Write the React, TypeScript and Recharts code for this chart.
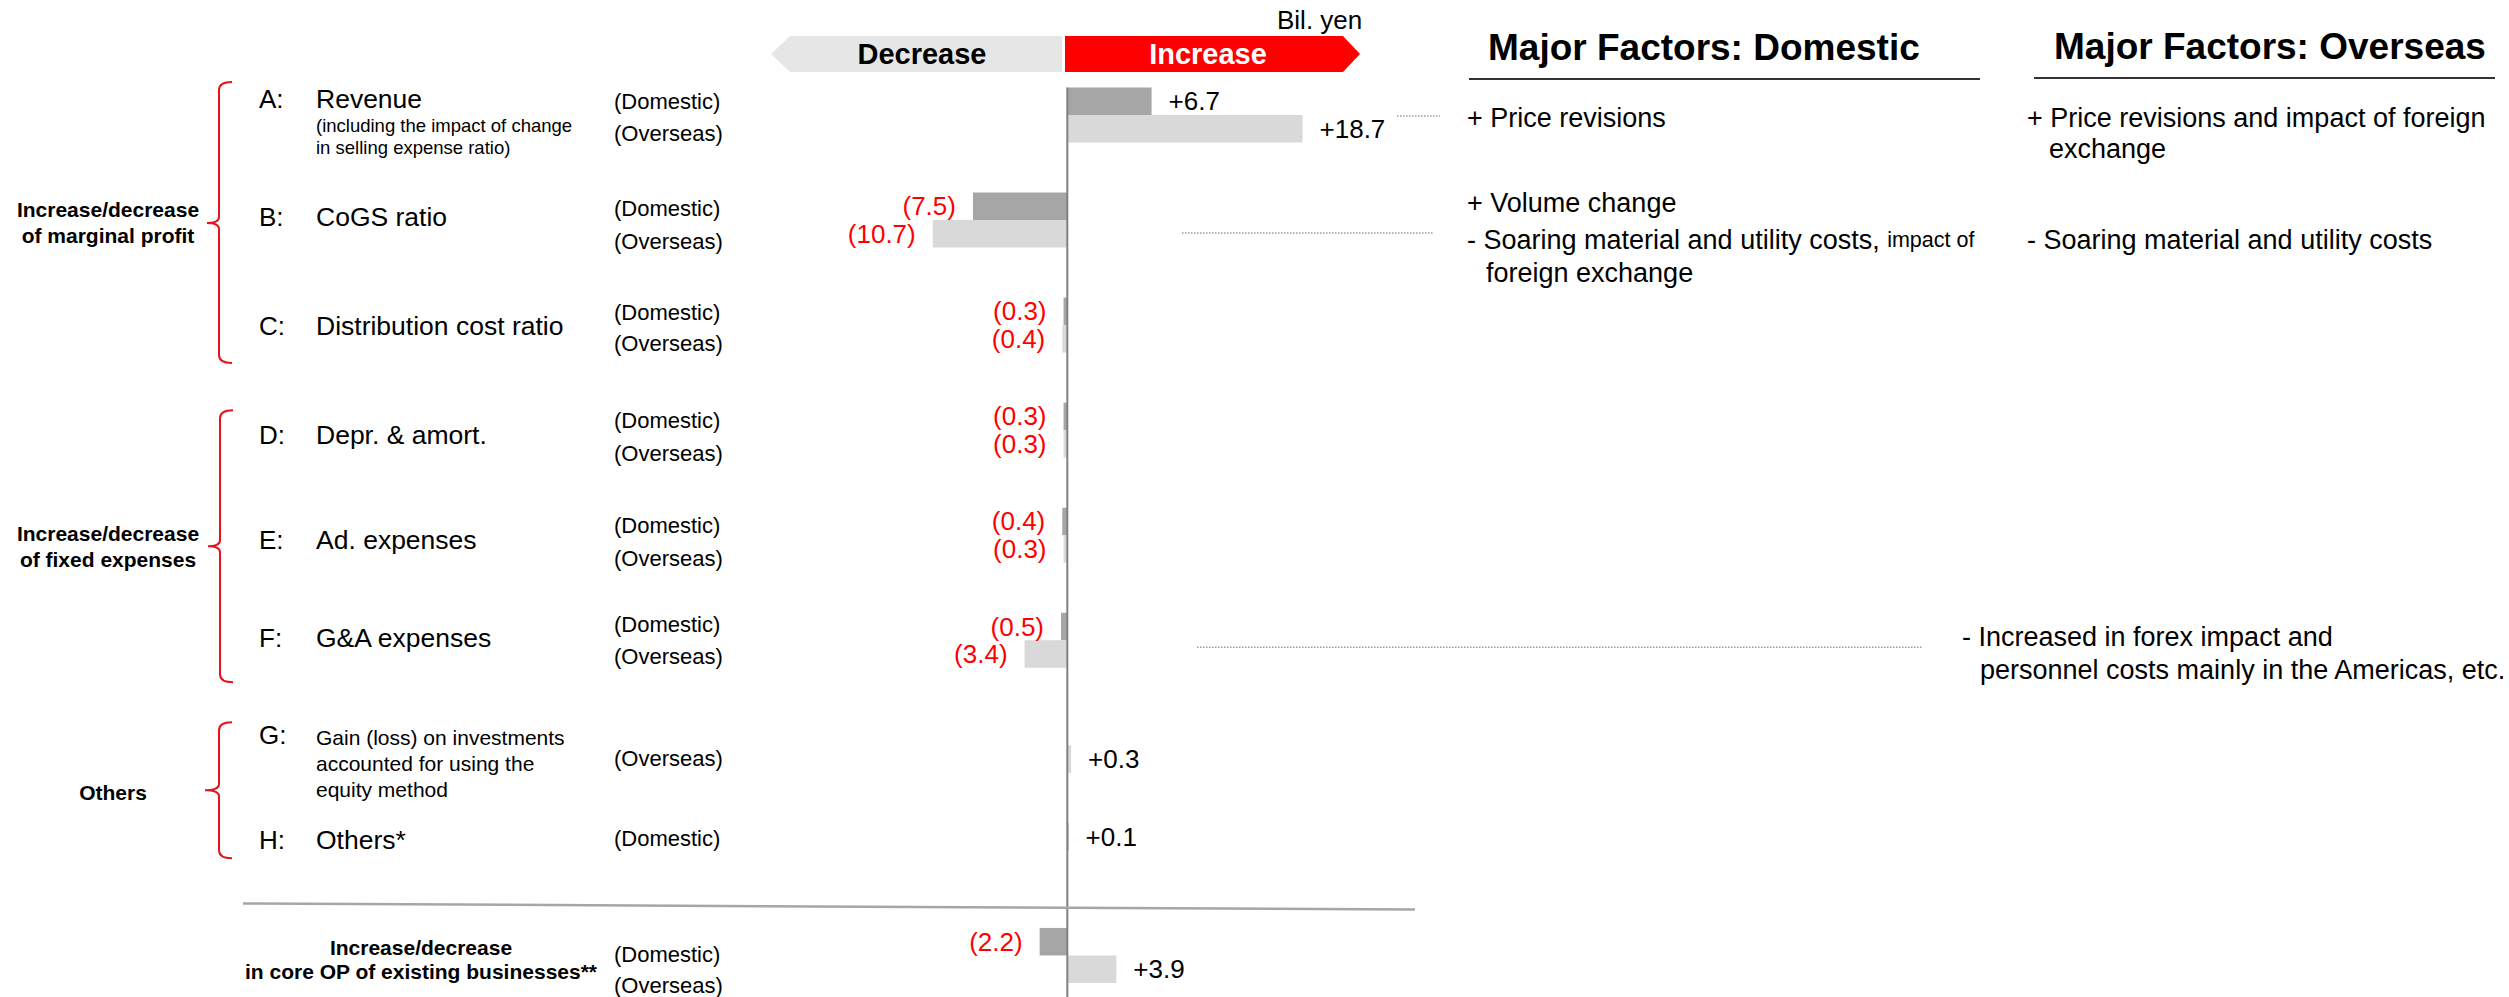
import React from 'react';
import { BarChart, Bar, XAxis, YAxis, LabelList, ReferenceLine } from 'recharts';

const FONT = "'Liberation Sans', Arial, Helvetica, sans-serif";

// ---------- data ----------
const categories = ['A', 'B', 'C', 'D', 'E', 'F', 'G', 'H', 'Total'];
const itemLetters = ['A', 'B', 'C', 'D', 'E', 'F', 'G', 'H', ''];
const itemNames = [
  ['Revenue'],
  ['CoGS ratio'],
  ['Distribution cost ratio'],
  ['Depr. & amort.'],
  ['Ad. expenses'],
  ['G&A expenses'],
  ['Gain (loss) on investments', 'accounted for using the', 'equity method'],
  ['Others*'],
  ['Increase/decrease', 'in core OP of existing businesses**'],
];
const itemNotes = [['(including the impact of change', 'in selling expense ratio)'], [], [], [], [], [], [], [], []];
const domesticValues = [6.7, -7.5, -0.3, -0.3, -0.4, -0.5, null, 0.1, -2.2];
const overseasValues = [18.7, -10.7, -0.4, -0.3, -0.3, -3.4, 0.3, null, 3.9];
const seriesLabels = ['(Domestic)', '(Overseas)'];
const groupTitles = [
  ['Increase/decrease', 'of marginal profit'],
  ['Increase/decrease', 'of fixed expenses'],
  ['Others'],
];
const groupAnchorRows = ['B', 'E', 'G'];
const headerLabels = ['Decrease', 'Increase'];
const unitLabel = 'Bil. yen';
const factorTitles = ['Major Factors: Domestic', 'Major Factors: Overseas'];
const domesticFactors = [
  { row: 'A', lines: [['+ Price revisions']] },
  { row: 'B', lines: [['+ Volume change'], ['- Soaring material and utility costs, ', 'impact of'], ['foreign exchange']] },
];
const overseasFactors = [
  { row: 'A', lines: [['+ Price revisions and impact of foreign'], ['exchange']] },
  { row: 'B', lines: [['- Soaring material and utility costs']] },
  { row: 'F', lines: [['- Increased in forex impact and'], ['personnel costs mainly in the Americas, etc.']] },
];

const data = categories.map((cat, i) => ({
  cat,
  domestic: domesticValues[i],
  overseas: overseasValues[i],
}));

// ---------- layout (offsets relative to row centre) ----------
const LETTER_DY = [-16, -3, 1, 5, 5, -2, -10, -10, 0];
const NAME_DY = [[-16], [-3], [1], [5], [5], [-2], [-8, 18, 44], [-10], [-8, 16]];
const NOTE_DY = [10, 32];
const SERIES_DY = [
  [-14, 18], [-12, 21], [-13, 18], [-10, 23], [-10, 23], [-16, 16], [null, 13], [-12, null], [-1, 30],
];
const GROUP_LAYOUT = [
  { top: -138, bottom: 143, tip: 3, x: 219, tipX: 207, endX: 232, labelX: 108, labelDy: [-11, 15] },
  { top: -125, bottom: 147, tip: 11, x: 220, tipX: 208, endX: 233, labelX: 108, labelDy: [-2, 24] },
  { top: -23, bottom: 113, tip: 45, x: 219, tipX: 205, endX: 232, labelX: 113, labelDy: [47] },
];
const FACTOR_LAYOUT = {
  dom: { A: [[1467, 3]], B: [[1467, -17], [1467, 20], [1486, 53]] },
  ov: { A: [[2027, 3], [2049, 34]], B: [[2027, 20]], F: [[1962, -3], [1980, 30]] },
  leader: { A: [1397, 1440, 1], B: [1182, 1433, 13], F: [1197, 1922, 7] },
};

const T = ({ x, y, size, bold, anchor, fill, children }) => (
  <text
    x={x}
    y={y}
    fontSize={size}
    fontWeight={bold ? 'bold' : 'normal'}
    textAnchor={anchor || 'start'}
    dominantBaseline="central"
    fill={fill || '#000'}
    fontFamily={FONT}
  >
    {children}
  </text>
);

function renderRowTick(props) {
  const { y, payload } = props;
  const cat = payload.value;
  const i = categories.indexOf(cat);
  const c = y;
  const parts = [];

  if (itemLetters[i]) {
    parts.push(<T key="l" x={259} y={c + LETTER_DY[i]} size={26}>{itemLetters[i] + ':'}</T>);
    const small = itemNames[i].length > 1;
    itemNames[i].forEach((n, k) =>
      parts.push(
        <T key={'n' + k} x={316} y={c + NAME_DY[i][k]} size={small ? 21 : 26.5}>{n}</T>
      )
    );
    itemNotes[i].forEach((n, k) =>
      parts.push(<T key={'no' + k} x={316} y={c + NOTE_DY[k]} size={18.5}>{n}</T>)
    );
  } else {
    itemNames[i].forEach((n, k) =>
      parts.push(
        <T key={'n' + k} x={421} y={c + NAME_DY[i][k]} size={21} bold anchor="middle">{n}</T>
      )
    );
    parts.push(<line key="sep" x1={243} y1={c - 52} x2={1415} y2={c - 46} stroke="#a6a6a6" strokeWidth={2.5} />);
  }

  SERIES_DY[i].forEach((dy, k) => {
    if (dy == null) return;
    parts.push(<T key={'s' + k} x={614} y={c + dy} size={22}>{seriesLabels[k]}</T>);
  });

  const g = groupAnchorRows.indexOf(cat);
  if (g >= 0) {
    const L = GROUP_LAYOUT[g];
    const top = c + L.top, bot = c + L.bottom, tip = c + L.tip;
    const d = `M${L.endX},${top} Q${L.x},${top} ${L.x},${top + 8} L${L.x},${tip - 6} Q${L.x},${tip} ${L.tipX},${tip} Q${L.x},${tip} ${L.x},${tip + 6} L${L.x},${bot - 8} Q${L.x},${bot} ${L.endX},${bot}`;
    parts.push(<path key="br" d={d} fill="none" stroke="#e8141c" strokeWidth={2} />);
    groupTitles[g].forEach((t, k) =>
      parts.push(<T key={'g' + k} x={L.labelX} y={c + L.labelDy[k]} size={21} bold anchor="middle">{t}</T>)
    );
  }

  const renderFactors = (list, lay, kp) => {
    list.forEach((f) => {
      if (f.row !== cat) return;
      f.lines.forEach((segs, k) => {
        const [fx, fdy] = lay[cat][k];
        parts.push(
          <text key={kp + k} x={fx} y={c + fdy} fontSize={27} dominantBaseline="central" fontFamily={FONT} fill="#000">
            {segs[0]}
            {segs[1] ? <tspan fontSize={21.5}>{segs[1]}</tspan> : null}
          </text>
        );
      });
    });
  };
  renderFactors(domesticFactors, FACTOR_LAYOUT.dom, 'fd');
  renderFactors(overseasFactors, FACTOR_LAYOUT.ov, 'fo');
  const ld = FACTOR_LAYOUT.leader[cat];
  if (ld) {
    parts.push(
      <line key="ld" x1={ld[0]} x2={ld[1]} y1={c + ld[2]} y2={c + ld[2]} stroke="#9a9a9a" strokeWidth={1.5} strokeDasharray="1.5 1.5" />
    );
  }

  return <g>{parts}</g>;
}

function renderValueLabel(props) {
  const { value } = props;
  if (value === null || value === undefined || value === '') return null;
  const vb = props.viewBox && props.viewBox.width !== undefined ? props.viewBox : props;
  const x = Number(vb.x), w = Number(vb.width), y = Number(vb.y), h = Number(vb.height);
  const v = Number(value);
  const left = Math.min(x, x + w);
  const right = Math.max(x, x + w);
  const neg = v < 0;
  const tx = neg ? left - 17 : right + 17;
  return (
    <text
      x={tx}
      y={y + h / 2}
      fontSize={26}
      textAnchor={neg ? 'end' : 'start'}
      dominantBaseline="central"
      fill={neg ? '#ff0000' : '#000'}
      fontFamily={FONT}
    >
      {neg ? `(${Math.abs(v).toFixed(1)})` : `+${v.toFixed(1)}`}
    </text>
  );
}

const ZeroLine = (p) => {
  const yTop = Math.min(p.y1, p.y2) + 25;
  const yBot = Math.max(p.y1, p.y2);
  return <line x1={p.x1} x2={p.x2} y1={yTop} y2={yBot} stroke="#808080" strokeWidth={2} />;
};

export default function App() {
  return (
    <div
      style={{
        position: 'absolute',
        left: 0,
        top: 0,
        width: 2509,
        height: 997,
        overflow: 'hidden',
        background: '#fff',
        fontFamily: FONT,
      }}
    >
      <BarChart
        width={2509}
        height={1008}
        data={data}
        layout="vertical"
        margin={{ top: 62.5, right: 58, bottom: 0, left: 0 }}
        barSize={27.5}
        barGap={0}
        barCategoryGap={0}
      >
        <XAxis type="number" domain={[-80, 110]} hide allowDataOverflow />
        <YAxis
          type="category"
          dataKey="cat"
          width={61}
          axisLine={false}
          tickLine={false}
          interval={0}
          tick={renderRowTick}
        />
        <Bar dataKey="domestic" fill="#a6a6a6" isAnimationActive={false}>
          <LabelList dataKey="domestic" content={renderValueLabel} />
        </Bar>
        <Bar dataKey="overseas" fill="#d9d9d9" isAnimationActive={false}>
          <LabelList dataKey="overseas" content={renderValueLabel} />
        </Bar>
        <ReferenceLine x={0} stroke="#808080" strokeWidth={2} shape={ZeroLine} />
      </BarChart>
      <svg style={{ position: 'absolute', left: 0, top: 0 }} width={2509} height={997}>
        <T x={1277} y={20} size={26}>{unitLabel}</T>
        <polygon points="1062,36 790,36 771,54 790,72 1062,72" fill="#e6e6e6" />
        <polygon points="1065,36 1343,36 1360,54 1343,72 1065,72" fill="#ff0000" />
        <T x={922} y={54} size={29} bold anchor="middle">{headerLabels[0]}</T>
        <T x={1208} y={54} size={29} bold anchor="middle" fill="#fff">{headerLabels[1]}</T>
        <T x={1488} y={47} size={37} bold>{factorTitles[0]}</T>
        <T x={2054} y={46} size={37} bold>{factorTitles[1]}</T>
        <line x1={1469} y1={79} x2={1980} y2={79} stroke="#333" strokeWidth={2} />
        <line x1={2034} y1={78} x2={2495} y2={78} stroke="#333" strokeWidth={2} />
      </svg>
    </div>
  );
}
